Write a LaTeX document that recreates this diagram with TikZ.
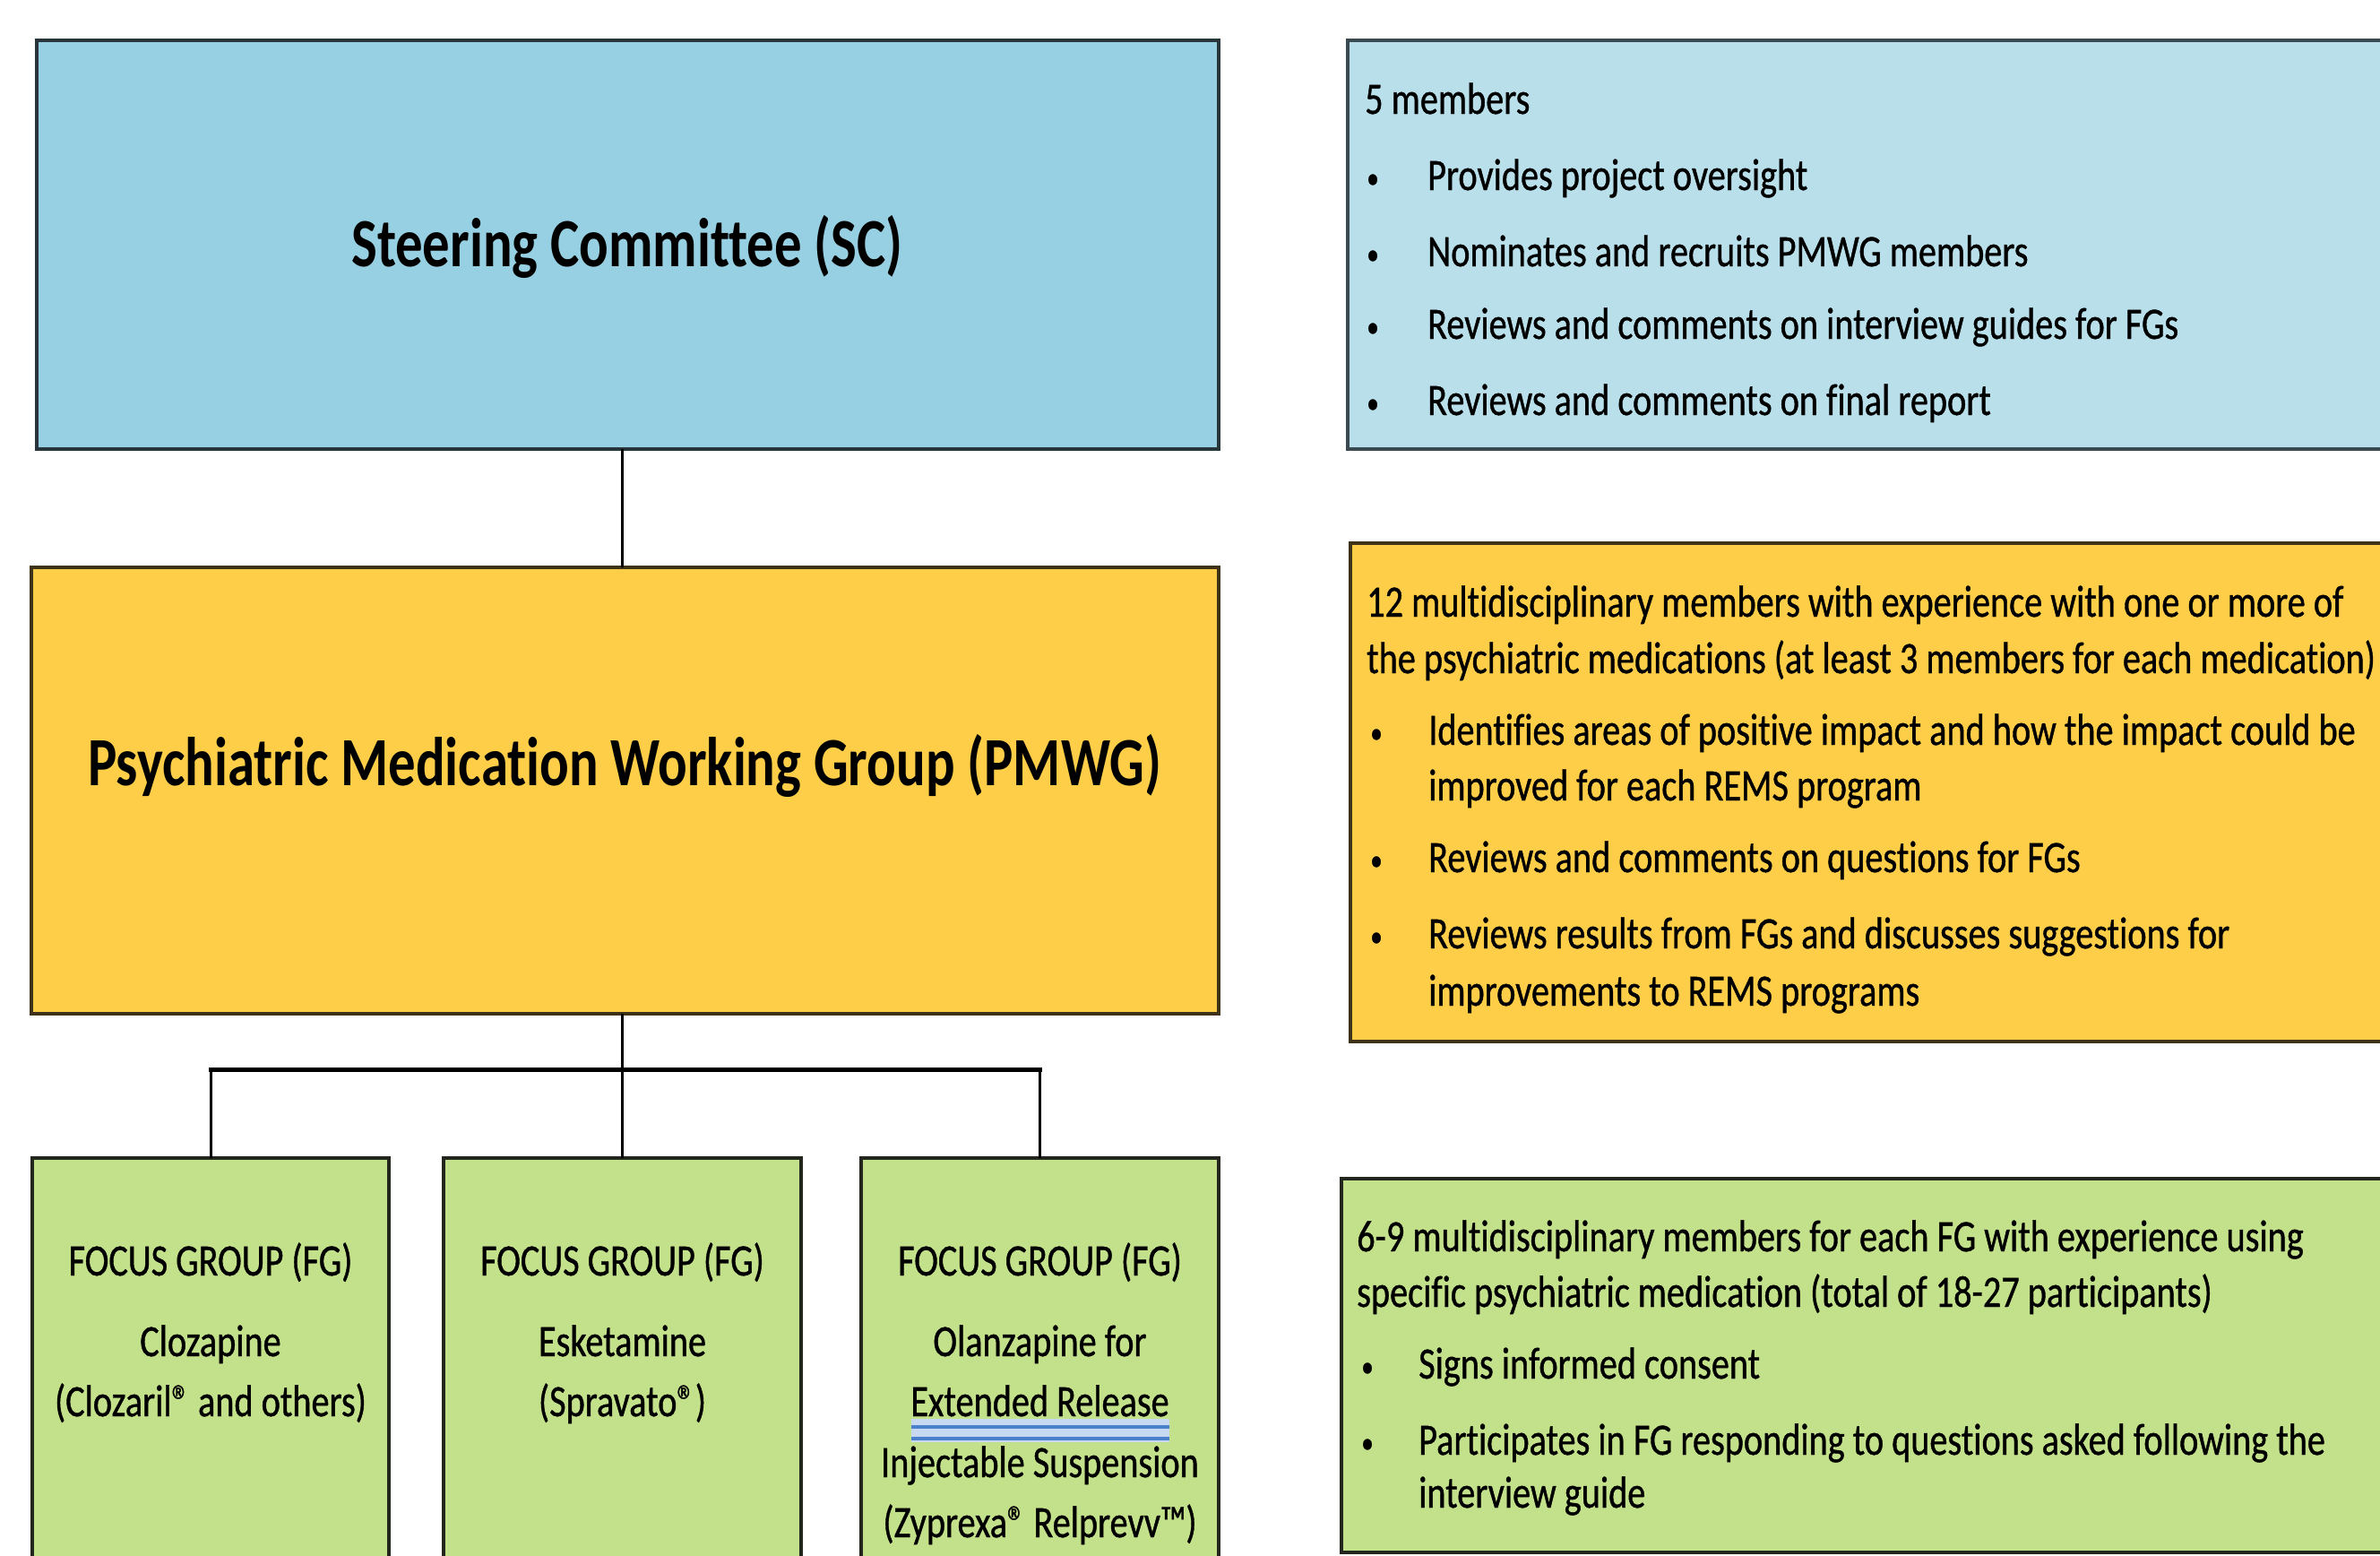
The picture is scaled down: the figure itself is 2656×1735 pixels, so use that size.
\documentclass[tikz,border=0pt]{standalone}
\usepackage{fontspec}
\setmainfont{Carlito}[FakeStretch=0.805, FakeBold=0.8, Ligatures=NoCommon]
\newfontfamily\titlefont{Carlito}[FakeStretch=0.79, Ligatures=NoCommon]
\definecolor{scfill}{HTML}{97D0E2}
\definecolor{scline}{HTML}{28363C}
\definecolor{bluefill}{HTML}{B9E0EA}
\definecolor{blueline}{HTML}{3A4A50}
\definecolor{orfill}{HTML}{FECE48}
\definecolor{orline}{HTML}{3E3219}
\definecolor{grfill}{HTML}{C3E08A}
\definecolor{grline}{HTML}{23261C}
\definecolor{ulight}{HTML}{C6D9F1}
\definecolor{ublue}{HTML}{4A80CC}
\tikzset{
  sbox/.style={draw, line width=3.5pt, inner sep=0pt, outer sep=0pt, anchor=north west},
  bodytxt/.style={inner sep=0pt, anchor=base west, font=\fontsize{50}{62}\selectfont},
  bul/.style={inner sep=0pt, anchor=base west, font=\fontsize{34}{40}\selectfont},
  ctext/.style={inner sep=0pt, anchor=base, font=\fontsize{50}{62}\selectfont},
  ttl/.style={inner sep=0pt, anchor=base, font=\titlefont\fontsize{77}{90}\selectfont\bfseries},
  conn/.style={draw=black, line width=3pt},
  busline/.style={draw=black, line width=5pt, line cap=rect},
}
\newcommand{\regmark}{\textregistered}
\begin{document}
\begin{tikzpicture}[x=1pt,y=-1pt]
\useasboundingbox (0,0) rectangle (2656,1735);
\begin{scope}
\clip (0,0) rectangle (2656,1735);
% left column boxes
\node[sbox, fill=scfill, draw=scline, minimum width=1319pt, minimum height=456pt] (sc) at (41,45) {};
\node[sbox, fill=orfill, draw=orline, minimum width=1325pt, minimum height=498pt] (pmwg) at (35,633) {};
\node[sbox, fill=grfill, draw=grline, minimum width=398pt, minimum height=470pt] (fg1) at (36,1292) {};
\node[sbox, fill=grfill, draw=grline, minimum width=399pt, minimum height=470pt] (fg2) at (495,1292) {};
\node[sbox, fill=grfill, draw=grline, minimum width=399pt, minimum height=470pt] (fg3) at (961,1292) {};
% right column boxes
\node[sbox, fill=bluefill, draw=blueline, minimum width=1200pt, minimum height=456pt] (r1) at (1504,45) {};
\node[sbox, fill=orfill, draw=orline, minimum width=1200pt, minimum height=556pt] (r2) at (1507,606) {};
\node[sbox, fill=grfill, draw=grline, minimum width=1210pt, minimum height=417pt] (r3) at (1497,1315) {};

% connectors
\coordinate (bus) at (0,1193);
\draw[conn] (fg2.north |- sc.south) -- (fg2.north |- pmwg.north);
\draw[conn] (fg2.north |- pmwg.south) -- (fg2.north);
\draw[busline] (fg1.north |- bus) -- (fg3.north |- bus);
\draw[conn] (fg1.north |- bus) -- (fg1.north);
\draw[conn] (fg3.north |- bus) -- (fg3.north);

% titles
\node[ttl] (sct) at (700,297) {Steering Committee (SC)};
\node[ttl] (pmt) at (697,876) {Psychiatric Medication Working Group (PMWG)};

% focus groups
\node[ctext] (f1a) at (fg1.north |- 0,1423) {FOCUS GROUP (FG)};
\node[ctext] (f1b) at (fg1.north |- 0,1513) {Clozapine};
\node[ctext] (f1c) at (fg1.north |- 0,1580) {(Clozaril\regmark{} and others)};
\node[ctext] (f2a) at (fg2.north |- 0,1423) {FOCUS GROUP (FG)};
\node[ctext] (f2b) at (fg2.north |- 0,1513) {Esketamine};
\node[ctext] (f2c) at (fg2.north |- 0,1580) {(Spravato\regmark)};
\node[ctext] (f3a) at (fg3.north |- 0,1423) {FOCUS GROUP (FG)};
\node[ctext] (f3b) at (fg3.north |- 0,1513) {Olanzapine for};
\fill[ulight] (1017,1583) rectangle (1305,1609);
\draw[ublue, line width=4pt] (1017,1592) -- (1305,1592);
\draw[ublue, line width=4pt] (1017,1605) -- (1305,1605);
\node[ctext] (f3c) at (fg3.north |- 0,1580) {Extended Release};
\node[ctext] (f3d) at (fg3.north |- 0,1648) {Injectable Suspension};
\node[ctext] (f3e) at (fg3.north |- 0,1715) {(Zyprexa\regmark{} Relprevv\texttrademark)};

% right box 1
\node[bodytxt] (a0) at (1523,127) {5 members};
\node[bul] (ab1) at (1525,210) {•};
\node[bodytxt] (a1) at (1593,212) {Provides project oversight};
\node[bul] (ab2) at (1525,295) {•};
\node[bodytxt] (a2) at (1593,297) {Nominates and recruits PMWG members};
\node[bul] (ab3) at (1525,376) {•};
\node[bodytxt] (a3) at (1593,378) {Reviews and comments on interview guides for FGs};
\node[bul] (ab4) at (1525,461) {•};
\node[bodytxt] (a4) at (1593,463) {Reviews and comments on final report};

% right box 2
\node[bodytxt] (b0) at (1525,688) {12 multidisciplinary members with experience with one or more of};
\node[bodytxt] (b0b) at (1525,751) {the psychiatric medications (at least 3 members for each medication)};
\node[bul] (bb1) at (1529,829) {•};
\node[bodytxt] (b1) at (1594,831) {Identifies areas of positive impact and how the impact could be};
\node[bodytxt] (b1b) at (1594,893) {improved for each REMS program};
\node[bul] (bb2) at (1529,971) {•};
\node[bodytxt] (b2) at (1594,973) {Reviews and comments on questions for FGs};
\node[bul] (bb3) at (1529,1056) {•};
\node[bodytxt] (b3) at (1594,1058) {Reviews results from FGs and discusses suggestions for};
\node[bodytxt] (b3b) at (1594,1122) {improvements to REMS programs};

% right box 3
\node[bodytxt] (c0) at (1514,1396) {6-9 multidisciplinary members for each FG with experience using};
\node[bodytxt] (c0b) at (1514,1458) {specific psychiatric medication (total of 18-27 participants)};
\node[bul] (cb1) at (1519,1536) {•};
\node[bodytxt] (c1) at (1583,1538) {Signs informed consent};
\node[bul] (cb2) at (1519,1621) {•};
\node[bodytxt] (c2) at (1583,1623) {Participates in FG responding to questions asked following the};
\node[bodytxt] (c2b) at (1583,1682) {interview guide};
\end{scope}
\end{tikzpicture}
\end{document}
